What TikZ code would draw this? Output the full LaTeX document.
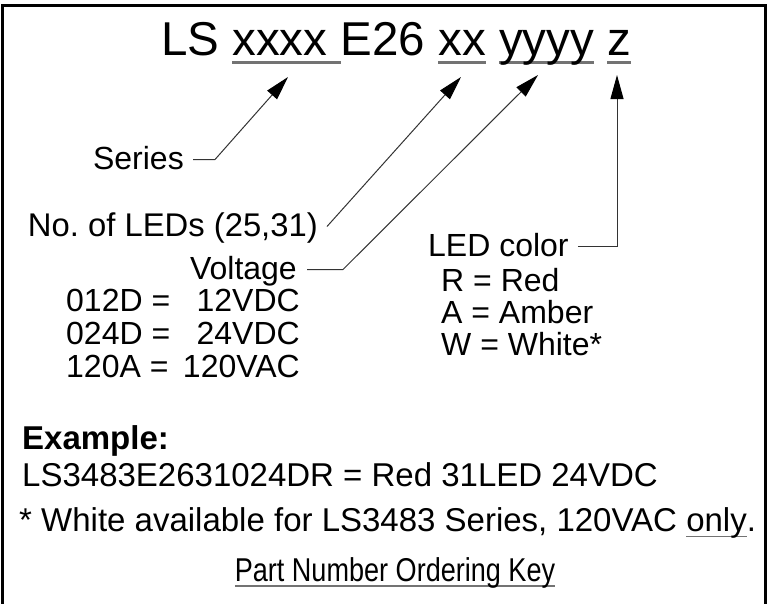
\documentclass[tikz,border=0pt]{standalone}
\usepackage{fontspec}
\setmainfont{Liberation Sans}
\newfontfamily\narrowfont[FakeStretch=0.82]{Liberation Sans}
\usetikzlibrary{arrows.meta,calc}
\definecolor{ulc}{gray}{0.45}
\newcommand\ulx[1]{\setbox0=\hbox{#1}\rlap{\textcolor{ulc}{\rule[-0.18em]{\wd0}{0.045em}}}\box0\relax}
\tikzset{
  txt/.style={inner sep=0pt, font=\fontsize{32}{38}\selectfont},
  btxt/.style={inner sep=0pt, font=\fontsize{33}{40}\selectfont},
  ttl/.style={inner sep=0pt, font=\fontsize{47.5}{57}\selectfont},
  keytxt/.style={inner sep=0pt, font=\narrowfont\fontsize{33}{40}\selectfont},
  lead/.style={line width=1pt, draw=black!80},
  arr/.style={lead, -{Triangle[length=24pt,width=13pt,color=black]}},
  framel/.style={line width=3pt}
}
\begin{document}
\begin{tikzpicture}[x=1pt,y=-1pt]
\useasboundingbox (0,0) rectangle (769,603);
\draw[framel] (2,604) -- (2,5.5) -- (765.5,5.5) -- (765.5,604);

% title
\node[ttl, anchor=base west] (title) at (161,55) {LS \ulx{xxxx }E26 \ulx{xx} \ulx{yyyy} \ulx{z}};
\coordinate (tA) at (288,77);
\coordinate (tB) at (461,77);
\coordinate (tC) at (538,75);
\coordinate (tD) at (617,75);

% labels
\node[txt, anchor=base east] (ser) at (184,169.5) {Series};
\node[txt, anchor=base east, font=\fontsize{32.8}{38}\selectfont] (nled) at (318,236.5) {No.\ of LEDs (25,31)};
\node[txt, anchor=base east] (volt) at (297,279.5) {Voltage};
\node[txt, anchor=base west] (col) at (428,256.5) {LED color};

\node[txt, anchor=base west] (cr) at (441,291.5) {R = Red};
\node[txt, anchor=base west] (ca) at (441,323.5) {A = Amber};
\node[txt, anchor=base west] (cw) at (441,355.5) {W = White*};

\node[txt, anchor=base west] (d12) at (66,311.5) {012D =};
\node[txt, anchor=base west] (d24) at (66,344.5) {024D =};
\node[txt, anchor=base west] (a120) at (66,377.5) {120A =};
\node[txt, anchor=base east] (v12) at (300,311.5) {12VDC};
\node[txt, anchor=base east] (v24) at (300,344.5) {24VDC};
\node[txt, anchor=base east] (v120) at (300,377.5) {120VAC};

\node[btxt, anchor=base west, font=\fontsize{33}{40}\selectfont\bfseries] (ex) at (22,449.5) {Example:};
\node[btxt, anchor=base west] (exl) at (22,486.5) {LS3483E2631024DR = Red 31LED 24VDC};
\node[btxt, anchor=base west] (note) at (19,531.5) {* White available for LS3483 Series, 120VAC \ulx{only}.};
\node[keytxt, anchor=base] (key) at (395,581) {\ulx{Part Number Ordering Key}};

% connectors
\coordinate (s1) at ($(ser.base east)+(9,-10)$);
\coordinate (s2) at ($(ser.base east)+(31,-10)$);
\draw[arr] (s1) -- (s2) -- (tA);

\coordinate (n1) at ($(nled.base east)+(9,-10)$);
\draw[arr] (n1) -- (tB);

\coordinate (v1) at ($(volt.base east)+(10,-10)$);
\coordinate (v2) at ($(volt.base east)+(46,-10)$);
\draw[arr] (v1) -- (v2) -- (tC);

\coordinate (c1) at ($(col.base east)+(9,-10)$);
\coordinate (c2) at (tD |- c1);
\draw[arr] (c1) -- (c2) -- (tD);
\end{tikzpicture}
\end{document}
